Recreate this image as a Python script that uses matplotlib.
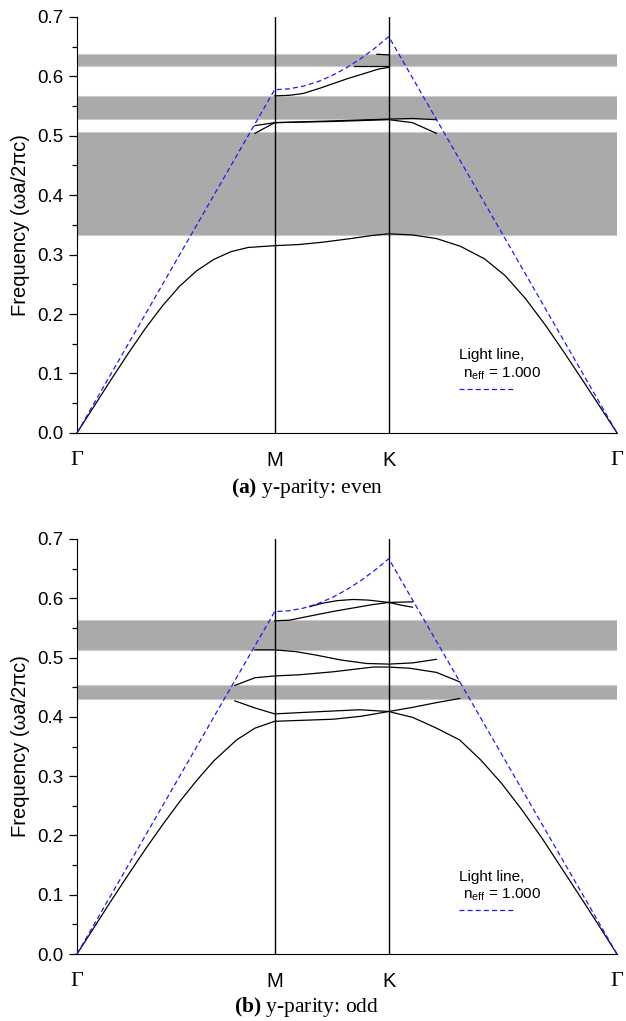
import matplotlib
matplotlib.use('Agg')
import matplotlib.pyplot as plt
from matplotlib.ticker import MultipleLocator

plt.rcParams['font.family'] = ['Liberation Sans', 'DejaVu Sans']
plt.rcParams['mathtext.fontset'] = 'custom'
plt.rcParams['mathtext.rm'] = 'Liberation Serif'
plt.rcParams['mathtext.bf'] = 'Liberation Serif:bold'

# ---- k-path positions (units of 2*pi/a) ----
K_M = 0.5774
K_K = 0.9107
K_END = 1.5774
tick_pos = [0, K_M, K_K, K_END]
tick_labels = ['Γ', 'M', 'K', 'Γ']

# ---- light line (n_eff = 1.000) ----
light_k = [0, K_M, 0.6190, 0.6607, 0.7024, 0.7440, 0.7857, 0.8274, 0.8690, K_K, K_END]
light_f = [0, 0.5774, 0.5789, 0.5833, 0.5907, 0.6009, 0.6138, 0.6291, 0.6468, 0.6667, 0]

# ---- band gaps ----
gaps_even = [(0.333, 0.506), (0.528, 0.567), (0.617, 0.638)]
gaps_odd = [(0.430, 0.454), (0.513, 0.563)]

# ---- even bands ----
even_b1_k = [0, 0.05, 0.10, 0.15, 0.20, 0.25, 0.30, 0.35, 0.40, 0.45, 0.50, K_M,
             0.65, 0.72, 0.80, 0.86, K_K,
             0.98, 1.05, 1.12, 1.19, 1.25, 1.31, 1.37, 1.42, 1.48, 1.53, K_END]
even_b1_f = [0, 0.045, 0.090, 0.134, 0.176, 0.214, 0.247, 0.273, 0.292, 0.305, 0.312, 0.315,
             0.317, 0.321, 0.327, 0.332, 0.335,
             0.333, 0.327, 0.314, 0.293, 0.265, 0.226, 0.180, 0.138, 0.086, 0.042, 0]
even_b2_k = [K_M, 0.62, 0.66, 0.71, 0.75, 0.79, 0.83, 0.88, K_K]
even_b2_f = [0.567, 0.568, 0.571, 0.580, 0.588, 0.596, 0.603, 0.612, 0.615]
even_b3_k = [0.81, K_K]
even_b3_f = [0.617, 0.617]
even_b4_k = [0.876, K_K]
even_b4_f = [0.637, 0.636]
even_b5_k = [0.52, K_M, 0.75, K_K, 0.98, 1.05]
even_b5_f = [0.517, 0.522, 0.525, 0.528, 0.529, 0.527]
even_b6_k = [0.52, K_M, 0.75, K_K, 0.98, 1.05]
even_b6_f = [0.504, 0.522, 0.524, 0.527, 0.522, 0.504]

# ---- odd bands ----
odd_bA_k = [K_M, 0.62, 0.68, 0.75, 0.80, 0.86, K_K, 0.98]
odd_bA_f = [0.562, 0.563, 0.570, 0.578, 0.583, 0.589, 0.593, 0.594]
odd_bB_k = [0.68, 0.72, 0.76, 0.806, 0.85, K_K, 0.95, 0.98]
odd_bB_f = [0.586, 0.592, 0.596, 0.598, 0.597, 0.593, 0.588, 0.585]
odd_bC_k = [0.52, K_M, 0.64, 0.70, 0.77, 0.846, K_K, 0.98, 1.05]
odd_bC_f = [0.513, 0.513, 0.510, 0.504, 0.496, 0.490, 0.489, 0.491, 0.497]
odd_bD_k = [0.461, 0.52, K_M, 0.65, 0.748, 0.865, K_K, 0.972, 1.05, 1.118]
odd_bD_f = [0.453, 0.466, 0.469, 0.471, 0.476, 0.484, 0.484, 0.482, 0.475, 0.459]
odd_bE_k = [0.461, 0.52, K_M, 0.68, 0.826, K_K, 0.98, 1.05, 1.118]
odd_bE_f = [0.427, 0.415, 0.405, 0.408, 0.412, 0.409, 0.416, 0.424, 0.431]
odd_bF_k = [0, 0.05, 0.10, 0.15, 0.20, 0.25, 0.30, 0.35, 0.40, 0.466, 0.52, K_M,
            0.65, 0.748, 0.83, K_K,
            0.981, 1.05, 1.118, 1.18, 1.24, 1.30, 1.36, 1.42, 1.48, 1.53, K_END]
odd_bF_f = [0, 0.045, 0.090, 0.134, 0.177, 0.218, 0.257, 0.293, 0.326, 0.361, 0.381, 0.3925,
            0.394, 0.396, 0.401, 0.409,
            0.399, 0.381, 0.361, 0.327, 0.288, 0.243, 0.194, 0.141, 0.088, 0.043, 0]

even_bands = [(even_b1_k, even_b1_f), (even_b2_k, even_b2_f), (even_b3_k, even_b3_f),
              (even_b4_k, even_b4_f), (even_b5_k, even_b5_f), (even_b6_k, even_b6_f)]
odd_bands = [(odd_bA_k, odd_bA_f), (odd_bB_k, odd_bB_f), (odd_bC_k, odd_bC_f),
             (odd_bD_k, odd_bD_f), (odd_bE_k, odd_bE_f), (odd_bF_k, odd_bF_f)]

captions = [r'$\mathbf{(a)}$ y-parity: even', r'$\mathbf{(b)}$ y-parity: odd']

fig = plt.figure(figsize=(6.26, 10.21), dpi=100)
ax_top = fig.add_axes([0.123, 0.576, 0.8626, 0.4075])
ax_bot = fig.add_axes([0.123, 0.0656, 0.8626, 0.4065])

blue = '#1a1aff'

def draw(ax, gaps, bands, caption, cap_y):
    for lo, hi in gaps:
        ax.axhspan(lo, hi, facecolor='#aaaaaa', edgecolor='#cccccc', lw=0.8, zorder=1)
    for xv in (K_M, K_K):
        ax.axvline(xv, color='black', lw=1.0, zorder=2)
    for kk, ff in bands:
        ax.plot(kk, ff, color='black', lw=0.9, zorder=3, clip_on=False)
    ll, = ax.plot(light_k, light_f, color=blue, lw=0.9, dashes=(4, 2.5), zorder=4, clip_on=False)
    ax.set_xlim(0, K_END)
    ax.set_ylim(0, 0.7)
    ax.spines['top'].set_visible(False)
    ax.spines['right'].set_visible(False)
    ax.yaxis.set_minor_locator(MultipleLocator(0.05))
    ax.set_yticks([0, 0.1, 0.2, 0.3, 0.4, 0.5, 0.6, 0.7])
    ax.set_yticklabels(['0.0', '0.1', '0.2', '0.3', '0.4', '0.5', '0.6', '0.7'])
    ax.tick_params(axis='y', which='major', length=6, width=0.9, pad=4, labelsize=13.5)
    ax.tick_params(axis='y', which='minor', length=3.5, width=0.9)
    ax.set_xticks(tick_pos)
    ax.set_xticklabels(tick_labels)
    ax.tick_params(axis='x', length=0, pad=13, labelsize=14.5)
    for lbl in ax.get_xticklabels():
        if lbl.get_text() == 'Γ':
            lbl.set_family('Liberation Serif')
            lbl.set_fontsize(16)
    ax.set_ylabel('Frequency (ωa/2πc)', fontsize=14.5, labelpad=5)
    ax.legend([ll], [''], title='Light line,\n n$_\\mathregular{eff}$ = 1.000',
              frameon=False, loc='lower left', bbox_to_anchor=(0.69, 0.063),
              handlelength=4.0, handletextpad=0.0, borderpad=0.2, labelspacing=0.1,
              title_fontsize=11, alignment='left')
    fig.text(0.49, cap_y, caption, ha='center', va='center', fontsize=15.5,
             family='Liberation Serif')

draw(ax_top, gaps_even, even_bands, captions[0], 1 - 488 / 1021)
draw(ax_bot, gaps_odd, odd_bands, captions[1], 1 - 1007 / 1021)

fig.savefig('out.png', dpi=100)
